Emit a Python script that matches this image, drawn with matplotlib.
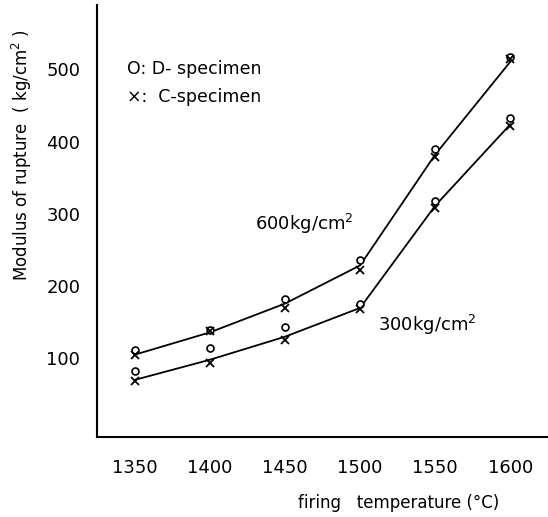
import numpy as np
import matplotlib
matplotlib.use("Agg")
import matplotlib.pyplot as plt

temps = [1350, 1400, 1450, 1500, 1550, 1600]

# 600 kg/cm2 forming pressure
d600 = [110, 139, 181, 236, 389, 518]   # D-specimen (o)
c600 = [103, 137, 169, 222, 379, 514]   # C-specimen (x)
fit600 = [104, 135, 175, 228, 382, 511]

# 300 kg/cm2 forming pressure
d300 = [81, 113, 142, 174, 317, 432]
c300 = [67, 93, 125, 168, 308, 421]
fit300 = [69, 97, 129, 169, 311, 424]

xticks = [1350, 1400, 1450, 1500, 1550, 1600]
yticks = [100, 200, 300, 400, 500]

plt.rcParams['font.family'] = ['DejaVu Sans']

fig = plt.figure(figsize=(5.48, 5.17), dpi=100)
ax = fig.add_axes([0.177, 0.155, 0.823, 0.836])

ax.plot(temps, fit600, color="black", lw=1.3)
ax.plot(temps, fit300, color="black", lw=1.3)
ax.plot(temps, d600, "o", mfc="white", mec="black", ms=5, mew=1.2)
ax.plot(temps, c600, "x", color="black", ms=6, mew=1.3)
ax.plot(temps, d300, "o", mfc="white", mec="black", ms=5, mew=1.2)
ax.plot(temps, c300, "x", color="black", ms=6, mew=1.3)

ax.set_xlim(1325, 1625)
ax.set_ylim(-10, 590)
ax.set_xticks(xticks)
ax.set_yticks(yticks)
ax.tick_params(length=0, labelsize=13)
ax.tick_params(axis="y", pad=12)
ax.tick_params(axis="x", pad=16)
for s in ["top", "right"]:
    ax.spines[s].set_visible(False)
ax.spines["left"].set_linewidth(1.5)
ax.spines["bottom"].set_linewidth(1.5)

ax.text(1345, 501, "O: D- specimen", fontsize=12.5, va="center")
ax.text(1345, 462, "×:  C-specimen", fontsize=12.5, va="center")
ax.text(1463, 285, "600kg/cm$^{2}$", fontsize=13, ha="center", va="center")
ax.text(1545, 146, "300kg/cm$^{2}$", fontsize=13, ha="center", va="center")

fig.text(0.04, 0.70, "Modulus of rupture  ( kg/cm$^{2}$ )", rotation=90,
         ha="center", va="center", fontsize=12)
fig.text(0.727, 0.028, "firing   temperature (°C)", ha="center", va="center",
         fontsize=12)

fig.savefig("out.png", dpi=100)
